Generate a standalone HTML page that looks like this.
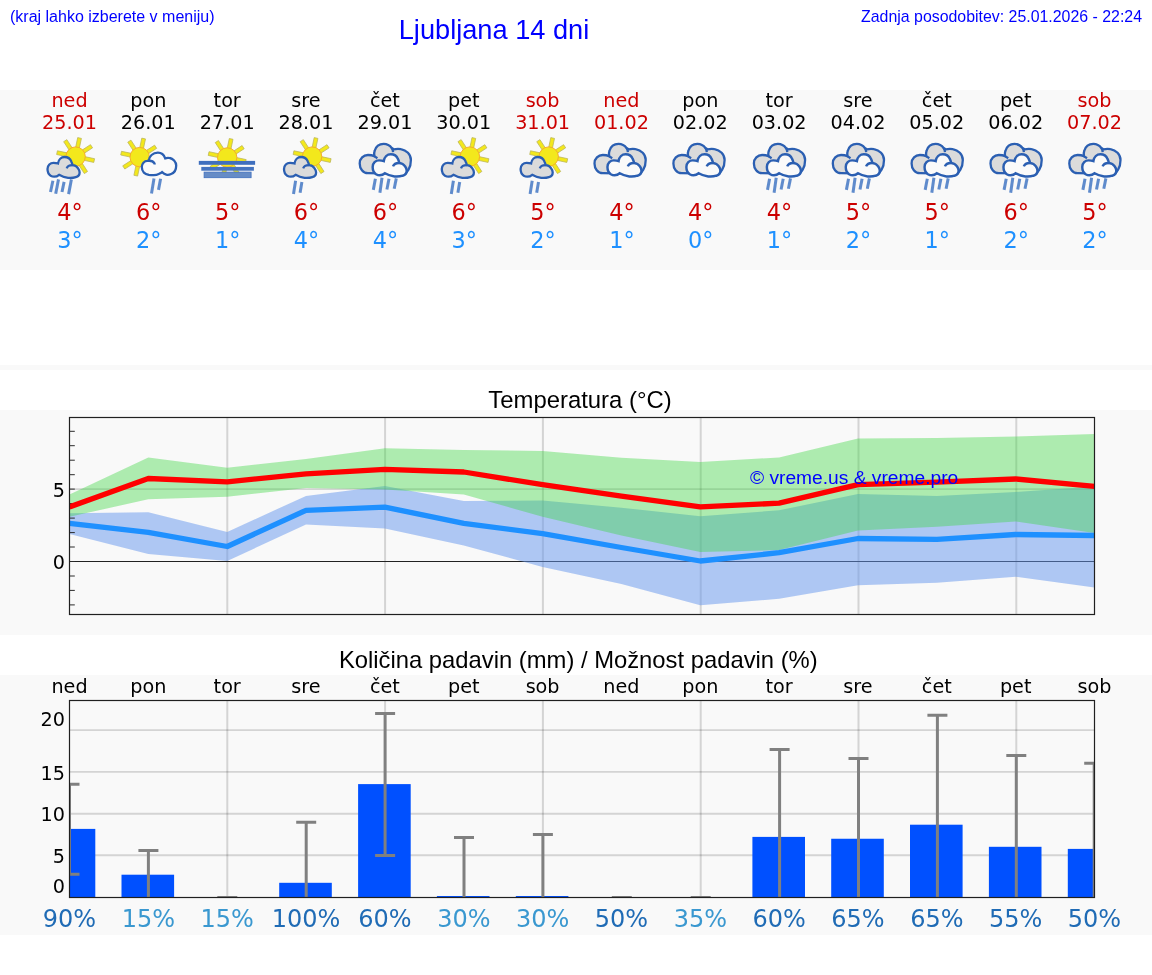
<!DOCTYPE html>
<html lang="sl"><head><meta charset="utf-8"><title>Ljubljana 14 dni</title>
<style>
html,body{margin:0;padding:0;background:#fff;}
body{width:1152px;height:975px;overflow:hidden;position:relative;}
svg{position:absolute;left:0;top:0;display:block;}
.dv{font-family:"DejaVu Sans","Liberation Sans",sans-serif;}
.ar{font-family:"Liberation Sans","DejaVu Sans",sans-serif;}
</style></head><body>

<svg width="1152" height="975" viewBox="0 0 1152 975">
<defs>
<g id="sun"><g fill="#f3e81c" stroke="#b9b35a" stroke-width="0.7"><rect x="-1.9" y="-19" width="3.8" height="10" transform="rotate(12)"/><rect x="-1.9" y="-19" width="3.8" height="10" transform="rotate(57)"/><rect x="-1.9" y="-19" width="3.8" height="10" transform="rotate(102)"/><rect x="-1.9" y="-19" width="3.8" height="10" transform="rotate(147)"/><rect x="-1.9" y="-19" width="3.8" height="10" transform="rotate(192)"/><rect x="-1.9" y="-19" width="3.8" height="10" transform="rotate(237)"/><rect x="-1.9" y="-19" width="3.8" height="10" transform="rotate(282)"/><rect x="-1.9" y="-19" width="3.8" height="10" transform="rotate(327)"/></g><circle r="9.7" fill="#f3e81c" stroke="#f6ad2a" stroke-width="1"/></g>
<g id="cl"><path d="M4.2,19.9 C2.2,18.6 1,16 1,13.2 C1,9.5 3.8,7 7,7 C8.6,7 10.2,7.2 11.5,7.6 C12,3.8 14.8,1.2 18.1,1.2 C21.3,1.2 23.8,3 24.8,5.6 C25.500,7 25.9,8.2 26.2,9.4 C28.4,9.6 30.4,10.8 31.6,12.6 C32.6,13.8 33.1,15.2 33.1,16.7 C33.1,19 31.500,20.7 29.3,21.3 C26.8,22.1 24,22.2 21.6,22 C18,21.6 15,20.4 12.6,19 C11.2,20.2 9.500,20.9 7.7,20.9 C6.4,20.9 5.2,20.500 4.2,19.9 Z"/><path d="M20.2,12.6 C20.8,10.9 23,9.3 26.2,9.4" fill="none"/></g>
<g id="cr"><path d="M8,9 C8.3,4.500 12,1 17.1,1 C20.500,1 23,2.8 24.4,6.6 C26,6 27.500,6 28.9,6.3 C32,6.8 35.4,10 35.4,13.9 C35.4,18.500 33,21.500 30.3,22.3 C28.500,23.2 26.500,23.2 25.500,23 C24,22.500 22.500,21.500 21.3,20.4 C20.500,21.2 19.500,21.7 18.500,22 C16.500,23 14.500,23.4 12.9,23.4 C11,23.4 9.500,23.4 8,23.2 C6,22.7 4.3,22 3.1,20.9 C1.8,19.500 1,17.500 1,15.3 C1,12 3.500,9.2 6.6,9.2 C7.1,9.1 7.6,9 8,9 Z"/><path d="M6.6,9.2 C9.500,8.8 12.500,9.6 13.500,11.500 C13.8,12 13.9,12.500 13.9,12.9" fill="none"/></g>
<g id="sunrain4"><use href="#sun" x="34.1" y="22.6"/><use href="#cl" x="5" y="21.8" fill="#dbdbdb" stroke="#2b5fb2" stroke-width="2.3"/><g stroke="#4478c4" stroke-width="3" stroke-opacity="0.85"><line x1="11.4" y1="46.8" x2="9" y2="58"/><line x1="17" y1="45.4" x2="14.2" y2="59.7"/><line x1="22.6" y1="47.9" x2="20.5" y2="58"/><line x1="29.9" y1="45.4" x2="27.1" y2="60.1"/></g></g>
<g id="sunrain2"><use href="#sun" x="34.1" y="22.6"/><use href="#cl" x="5" y="21.8" fill="#dbdbdb" stroke="#2b5fb2" stroke-width="2.3"/><g stroke="#4478c4" stroke-width="3" stroke-opacity="0.85"><line x1="17.6" y1="46.8" x2="15.5" y2="60.1"/><line x1="23.9" y1="47.9" x2="22.1" y2="58.7"/></g></g>
<g id="sunL"><use href="#sun" x="19.4" y="23.1"/><use href="#cr" x="20.5" y="17.7" fill="#fafafa" stroke="#2b5fb2" stroke-width="2.3"/><g stroke="#4478c4" stroke-width="3" stroke-opacity="0.85"><line x1="33.7" y1="44.4" x2="31.2" y2="59.4"/><line x1="40.3" y1="44.7" x2="38.2" y2="55.9"/></g></g>
<g id="fog"><use href="#sun" x="28" y="23.5"/><rect x="-0.4" y="26.9" width="56.3" height="3.9" fill="#3f6fbe"/><rect x="2.1" y="32.9" width="52.6" height="3.8" fill="#4473bf"/><rect x="4.9" y="38.1" width="47" height="5.6" fill="#668cc6" stroke="#3f6fbe" stroke-width="0.8"/></g>
<g id="clouds"><path d="M11.1,39.1 C6,39.1 2.8,34.500 2.8,29.4 C2.8,24.500 6.500,21 11.1,21 C13.500,21 15.8,21.4 17.4,22.1 C17,20 17.2,18.3 17.8,16.8 C19,12.500 22.500,9.9 26.8,9.9 C30,9.9 33,11.500 34.8,14 C35.500,14.4 36.2,14.8 36.9,15.4 C39,14.8 41.500,14.6 43.9,15.1 C49.500,16 54,20.500 54,25.9 C54,30 53,33.500 51.6,35.7 C50.500,37.500 49.500,38.8 48.1,39.8 L11.1,39.1 Z" fill="#dbdbdb" stroke="#2b5fb2" stroke-width="2.3"/><path d="M17.4,22.1 L20.5,24.2 M34.8,14 C35.6,15.3 36.1,16.8 36.2,18.2" fill="none" stroke="#2b5fb2" stroke-width="2.3"/><g transform="translate(14.7,18.9) scale(1.06,1.07)"><use href="#cl" fill="#fafafa" stroke="#2b5fb2" stroke-width="2.3"/></g></g>
<g id="cloudrain"><use href="#clouds"/><g stroke="#4478c4" stroke-width="3" stroke-opacity="0.85"><line x1="18.5" y1="44.7" x2="16.4" y2="55.9"/><line x1="25.1" y1="43.7" x2="23" y2="58.7"/><line x1="32.1" y1="44.7" x2="30" y2="55.5"/><line x1="39.4" y1="44.4" x2="37.3" y2="54.8"/></g></g>
</defs>

<rect x="0" y="90" width="1152" height="180" fill="#f9f9f9"/>
<rect x="0" y="365" width="1152" height="5" fill="#f9f9f9"/>
<rect x="0" y="410" width="1152" height="225" fill="#f9f9f9"/>
<rect x="0" y="675" width="1152" height="260" fill="#f9f9f9"/>
<g class="ar" fill="#0000ff">
<text x="10" y="21.5" font-size="16">(kraj lahko izberete v meniju)</text>
<text x="494" y="39" font-size="27.2" text-anchor="middle">Ljubljana 14 dni</text>
<text x="1142" y="21.5" font-size="15.9" text-anchor="end">Zadnja posodobitev: 25.01.2026 - 22:24</text>
</g>
<g class="dv" text-anchor="middle">
<text x="69.5" y="106.8" font-size="19.2" fill="#cc0000">ned</text>
<text x="69.5" y="128.8" font-size="19.2" fill="#cc0000">25.01</text>
<use href="#sunrain4" x="41.5" y="134"/>
<text x="70.0" y="219.6" font-size="22.4" fill="#cc0000">4°</text>
<text x="70.0" y="248.2" font-size="22.4" fill="#1e90ff">3°</text>
<text x="148.3" y="106.8" font-size="19.2" fill="#000000">pon</text>
<text x="148.3" y="128.8" font-size="19.2" fill="#000000">26.01</text>
<use href="#sunL" x="120.3" y="134"/>
<text x="148.8" y="219.6" font-size="22.4" fill="#cc0000">6°</text>
<text x="148.8" y="248.2" font-size="22.4" fill="#1e90ff">2°</text>
<text x="227.2" y="106.8" font-size="19.2" fill="#000000">tor</text>
<text x="227.2" y="128.8" font-size="19.2" fill="#000000">27.01</text>
<use href="#fog" x="199.2" y="134"/>
<text x="227.7" y="219.6" font-size="22.4" fill="#cc0000">5°</text>
<text x="227.7" y="248.2" font-size="22.4" fill="#1e90ff">1°</text>
<text x="306.0" y="106.8" font-size="19.2" fill="#000000">sre</text>
<text x="306.0" y="128.8" font-size="19.2" fill="#000000">28.01</text>
<use href="#sunrain2" x="278.0" y="134"/>
<text x="306.5" y="219.6" font-size="22.4" fill="#cc0000">6°</text>
<text x="306.5" y="248.2" font-size="22.4" fill="#1e90ff">4°</text>
<text x="384.9" y="106.8" font-size="19.2" fill="#000000">čet</text>
<text x="384.9" y="128.8" font-size="19.2" fill="#000000">29.01</text>
<use href="#cloudrain" x="356.9" y="134"/>
<text x="385.4" y="219.6" font-size="22.4" fill="#cc0000">6°</text>
<text x="385.4" y="248.2" font-size="22.4" fill="#1e90ff">4°</text>
<text x="463.8" y="106.8" font-size="19.2" fill="#000000">pet</text>
<text x="463.8" y="128.8" font-size="19.2" fill="#000000">30.01</text>
<use href="#sunrain2" x="435.8" y="134"/>
<text x="464.2" y="219.6" font-size="22.4" fill="#cc0000">6°</text>
<text x="464.2" y="248.2" font-size="22.4" fill="#1e90ff">3°</text>
<text x="542.6" y="106.8" font-size="19.2" fill="#cc0000">sob</text>
<text x="542.6" y="128.8" font-size="19.2" fill="#cc0000">31.01</text>
<use href="#sunrain2" x="514.6" y="134"/>
<text x="543.1" y="219.6" font-size="22.4" fill="#cc0000">5°</text>
<text x="543.1" y="248.2" font-size="22.4" fill="#1e90ff">2°</text>
<text x="621.4" y="106.8" font-size="19.2" fill="#cc0000">ned</text>
<text x="621.4" y="128.8" font-size="19.2" fill="#cc0000">01.02</text>
<use href="#clouds" x="591.7" y="134"/>
<text x="621.9" y="219.6" font-size="22.4" fill="#cc0000">4°</text>
<text x="621.9" y="248.2" font-size="22.4" fill="#1e90ff">1°</text>
<text x="700.3" y="106.8" font-size="19.2" fill="#000000">pon</text>
<text x="700.3" y="128.8" font-size="19.2" fill="#000000">02.02</text>
<use href="#clouds" x="670.6" y="134"/>
<text x="700.8" y="219.6" font-size="22.4" fill="#cc0000">4°</text>
<text x="700.8" y="248.2" font-size="22.4" fill="#1e90ff">0°</text>
<text x="779.1" y="106.8" font-size="19.2" fill="#000000">tor</text>
<text x="779.1" y="128.8" font-size="19.2" fill="#000000">03.02</text>
<use href="#cloudrain" x="751.1" y="134"/>
<text x="779.6" y="219.6" font-size="22.4" fill="#cc0000">4°</text>
<text x="779.6" y="248.2" font-size="22.4" fill="#1e90ff">1°</text>
<text x="858.0" y="106.8" font-size="19.2" fill="#000000">sre</text>
<text x="858.0" y="128.8" font-size="19.2" fill="#000000">04.02</text>
<use href="#cloudrain" x="830.0" y="134"/>
<text x="858.5" y="219.6" font-size="22.4" fill="#cc0000">5°</text>
<text x="858.5" y="248.2" font-size="22.4" fill="#1e90ff">2°</text>
<text x="936.8" y="106.8" font-size="19.2" fill="#000000">čet</text>
<text x="936.8" y="128.8" font-size="19.2" fill="#000000">05.02</text>
<use href="#cloudrain" x="908.8" y="134"/>
<text x="937.3" y="219.6" font-size="22.4" fill="#cc0000">5°</text>
<text x="937.3" y="248.2" font-size="22.4" fill="#1e90ff">1°</text>
<text x="1015.7" y="106.8" font-size="19.2" fill="#000000">pet</text>
<text x="1015.7" y="128.8" font-size="19.2" fill="#000000">06.02</text>
<use href="#cloudrain" x="987.7" y="134"/>
<text x="1016.2" y="219.6" font-size="22.4" fill="#cc0000">6°</text>
<text x="1016.2" y="248.2" font-size="22.4" fill="#1e90ff">2°</text>
<text x="1094.5" y="106.8" font-size="19.2" fill="#cc0000">sob</text>
<text x="1094.5" y="128.8" font-size="19.2" fill="#cc0000">07.02</text>
<use href="#cloudrain" x="1066.5" y="134"/>
<text x="1095.0" y="219.6" font-size="22.4" fill="#cc0000">5°</text>
<text x="1095.0" y="248.2" font-size="22.4" fill="#1e90ff">2°</text>
</g>
<text class="ar" x="580" y="408" font-size="23.9" text-anchor="middle" fill="#000">Temperatura (°C)</text>
<clipPath id="c1"><rect x="69.5" y="417.5" width="1025.0" height="197.0"/></clipPath>
<g clip-path="url(#c1)">
<line x1="227.3" y1="417.5" x2="227.3" y2="614.5" stroke="#000" stroke-opacity="0.15" stroke-width="2"/>
<line x1="385.1" y1="417.5" x2="385.1" y2="614.5" stroke="#000" stroke-opacity="0.15" stroke-width="2"/>
<line x1="542.9" y1="417.5" x2="542.9" y2="614.5" stroke="#000" stroke-opacity="0.15" stroke-width="2"/>
<line x1="700.7" y1="417.5" x2="700.7" y2="614.5" stroke="#000" stroke-opacity="0.15" stroke-width="2"/>
<line x1="858.5" y1="417.5" x2="858.5" y2="614.5" stroke="#000" stroke-opacity="0.15" stroke-width="2"/>
<line x1="1016.3" y1="417.5" x2="1016.3" y2="614.5" stroke="#000" stroke-opacity="0.15" stroke-width="2"/>
<line x1="69.5" y1="489.1" x2="1094.5" y2="489.1" stroke="#000" stroke-opacity="0.15" stroke-width="1.8"/>
<line x1="69.5" y1="561.5" x2="1094.5" y2="561.5" stroke="#222" stroke-width="1.1"/>
<polygon points="69.5,513.2 148.3,512.3 227.2,531.9 306.0,495.9 384.9,486.0 463.8,501.1 542.6,500.6 621.4,507.7 700.3,516.2 779.1,510.3 858.0,493.9 936.8,495.9 1015.7,492.0 1094.5,486.5 1094.5,587.6 1015.7,576.7 936.8,582.7 858.0,585.2 779.1,598.8 700.3,605.3 621.4,584.0 542.6,567.0 463.8,545.4 384.9,528.5 306.0,524.6 227.2,561.0 148.3,554.0 69.5,534.0" fill="#6495ed" fill-opacity="0.5"/>
<polygon points="69.5,494.5 148.3,457.4 227.2,467.8 306.0,459.0 384.9,448.3 463.8,450.1 542.6,450.9 621.4,457.7 700.3,462.1 779.1,457.4 858.0,438.6 936.8,437.9 1015.7,436.6 1094.5,434.0 1094.5,532.9 1015.7,521.5 936.8,526.7 858.0,530.6 779.1,550.1 700.3,551.9 621.4,535.5 542.6,516.8 463.8,494.6 384.9,489.4 306.0,488.1 227.2,496.7 148.3,499.3 69.5,516.8" fill="#3cd741" fill-opacity="0.4"/>
<line x1="69.5" y1="604.9" x2="74.8" y2="604.9" stroke="#2a2a2a" stroke-width="1"/>
<line x1="69.5" y1="590.4" x2="74.8" y2="590.4" stroke="#2a2a2a" stroke-width="1"/>
<line x1="69.5" y1="576.0" x2="74.8" y2="576.0" stroke="#2a2a2a" stroke-width="1"/>
<line x1="69.5" y1="561.5" x2="74.8" y2="561.5" stroke="#2a2a2a" stroke-width="1"/>
<line x1="69.5" y1="547.0" x2="74.8" y2="547.0" stroke="#2a2a2a" stroke-width="1"/>
<line x1="69.5" y1="532.6" x2="74.8" y2="532.6" stroke="#2a2a2a" stroke-width="1"/>
<line x1="69.5" y1="518.1" x2="74.8" y2="518.1" stroke="#2a2a2a" stroke-width="1"/>
<line x1="69.5" y1="503.6" x2="74.8" y2="503.6" stroke="#2a2a2a" stroke-width="1"/>
<line x1="69.5" y1="489.1" x2="74.8" y2="489.1" stroke="#2a2a2a" stroke-width="1"/>
<line x1="69.5" y1="474.7" x2="74.8" y2="474.7" stroke="#2a2a2a" stroke-width="1"/>
<line x1="69.5" y1="460.2" x2="74.8" y2="460.2" stroke="#2a2a2a" stroke-width="1"/>
<line x1="69.5" y1="445.7" x2="74.8" y2="445.7" stroke="#2a2a2a" stroke-width="1"/>
<line x1="69.5" y1="431.3" x2="74.8" y2="431.3" stroke="#2a2a2a" stroke-width="1"/>
<polyline points="69.5,523.3 148.3,532.4 227.2,546.5 306.0,510.3 384.9,507.1 463.8,523.3 542.6,533.7 621.4,547.5 700.3,561.0 779.1,552.7 858.0,538.5 936.8,539.4 1015.7,534.5 1094.5,535.5" fill="none" stroke="#1e90ff" stroke-width="5.3" stroke-linejoin="round"/>
<polyline points="69.5,506.9 148.3,478.5 227.2,481.9 306.0,473.8 384.9,469.4 463.8,472.0 542.6,484.7 621.4,496.2 700.3,506.9 779.1,503.2 858.0,484.7 936.8,482.1 1015.7,479.0 1094.5,486.3" fill="none" stroke="#ff0000" stroke-width="5.3" stroke-linejoin="round"/>
</g>
<rect x="69.5" y="417.5" width="1025.0" height="197.0" fill="none" stroke="#202020" stroke-width="1.2"/>
<g class="dv" font-size="19.2" text-anchor="end" fill="#000">
<text x="65" y="496.8">5</text><text x="65" y="569">0</text></g>
<text class="ar" x="750" y="484.3" font-size="19.2" fill="#0000ff">© vreme.us &amp; vreme.pro</text>
<text class="ar" x="578.3" y="667.9" font-size="23.8" text-anchor="middle" fill="#000">Količina padavin (mm) / Možnost padavin (%)</text>
<g class="dv" font-size="19.2" text-anchor="middle" fill="#000">
<text x="69.5" y="692.8">ned</text>
<text x="148.3" y="692.8">pon</text>
<text x="227.2" y="692.8">tor</text>
<text x="306.0" y="692.8">sre</text>
<text x="384.9" y="692.8">čet</text>
<text x="463.8" y="692.8">pet</text>
<text x="542.6" y="692.8">sob</text>
<text x="621.4" y="692.8">ned</text>
<text x="700.3" y="692.8">pon</text>
<text x="779.1" y="692.8">tor</text>
<text x="858.0" y="692.8">sre</text>
<text x="936.8" y="692.8">čet</text>
<text x="1015.7" y="692.8">pet</text>
<text x="1094.5" y="692.8">sob</text>
</g>
<clipPath id="c2"><rect x="69.5" y="700.5" width="1025.0" height="197.0"/></clipPath>
<g clip-path="url(#c2)">
<line x1="227.3" y1="700.5" x2="227.3" y2="897.5" stroke="#000" stroke-opacity="0.15" stroke-width="2"/>
<line x1="385.1" y1="700.5" x2="385.1" y2="897.5" stroke="#000" stroke-opacity="0.15" stroke-width="2"/>
<line x1="542.9" y1="700.5" x2="542.9" y2="897.5" stroke="#000" stroke-opacity="0.15" stroke-width="2"/>
<line x1="700.7" y1="700.5" x2="700.7" y2="897.5" stroke="#000" stroke-opacity="0.15" stroke-width="2"/>
<line x1="858.5" y1="700.5" x2="858.5" y2="897.5" stroke="#000" stroke-opacity="0.15" stroke-width="2"/>
<line x1="1016.3" y1="700.5" x2="1016.3" y2="897.5" stroke="#000" stroke-opacity="0.15" stroke-width="2"/>
<line x1="69.5" y1="730.1" x2="1094.5" y2="730.1" stroke="#000" stroke-opacity="0.15" stroke-width="1.9"/>
<line x1="69.5" y1="771.9" x2="1094.5" y2="771.9" stroke="#000" stroke-opacity="0.15" stroke-width="1.9"/>
<line x1="69.5" y1="813.7" x2="1094.5" y2="813.7" stroke="#000" stroke-opacity="0.15" stroke-width="1.9"/>
<line x1="69.5" y1="855.2" x2="1094.5" y2="855.2" stroke="#000" stroke-opacity="0.15" stroke-width="1.9"/>
<rect x="42.7" y="828.9" width="52.6" height="70.6" fill="#0050ff"/>
<rect x="121.5" y="874.7" width="52.6" height="24.8" fill="#0050ff"/>
<rect x="279.2" y="882.8" width="52.6" height="16.7" fill="#0050ff"/>
<rect x="358.1" y="784.1" width="52.6" height="115.4" fill="#0050ff"/>
<rect x="436.9" y="896" width="52.6" height="3.5" fill="#0050ff"/>
<rect x="515.8" y="896" width="52.6" height="3.5" fill="#0050ff"/>
<rect x="752.4" y="836.9" width="52.6" height="62.6" fill="#0050ff"/>
<rect x="831.2" y="838.75" width="52.6" height="60.8" fill="#0050ff"/>
<rect x="910.0" y="824.7" width="52.6" height="74.8" fill="#0050ff"/>
<rect x="988.9" y="846.8" width="52.6" height="52.7" fill="#0050ff"/>
<rect x="1067.8" y="848.9" width="52.6" height="50.6" fill="#0050ff"/>
<line x1="69.5" y1="784.3" x2="69.5" y2="874.2" stroke="#808080" stroke-width="3"/>
<line x1="59.5" y1="784.3" x2="79.5" y2="784.3" stroke="#808080" stroke-width="3"/>
<line x1="59.5" y1="874.2" x2="79.5" y2="874.2" stroke="#808080" stroke-width="3"/>
<line x1="148.4" y1="850.5" x2="148.4" y2="900" stroke="#808080" stroke-width="3"/>
<line x1="138.4" y1="850.5" x2="158.4" y2="850.5" stroke="#808080" stroke-width="3"/>
<line x1="227.3" y1="897.4" x2="227.3" y2="900" stroke="#808080" stroke-width="3"/>
<line x1="217.3" y1="897.4" x2="237.3" y2="897.4" stroke="#808080" stroke-width="3"/>
<line x1="306.2" y1="822.3" x2="306.2" y2="900" stroke="#808080" stroke-width="3"/>
<line x1="296.2" y1="822.3" x2="316.2" y2="822.3" stroke="#808080" stroke-width="3"/>
<line x1="385.1" y1="713.5" x2="385.1" y2="855.4" stroke="#808080" stroke-width="3"/>
<line x1="375.1" y1="713.5" x2="395.1" y2="713.5" stroke="#808080" stroke-width="3"/>
<line x1="375.1" y1="855.4" x2="395.1" y2="855.4" stroke="#808080" stroke-width="3"/>
<line x1="464.0" y1="837.4" x2="464.0" y2="900" stroke="#808080" stroke-width="3"/>
<line x1="454.0" y1="837.4" x2="474.0" y2="837.4" stroke="#808080" stroke-width="3"/>
<line x1="542.9" y1="834.6" x2="542.9" y2="900" stroke="#808080" stroke-width="3"/>
<line x1="532.9" y1="834.6" x2="552.9" y2="834.6" stroke="#808080" stroke-width="3"/>
<line x1="621.8" y1="897.4" x2="621.8" y2="900" stroke="#808080" stroke-width="3"/>
<line x1="611.8" y1="897.4" x2="631.8" y2="897.4" stroke="#808080" stroke-width="3"/>
<line x1="700.7" y1="897.4" x2="700.7" y2="900" stroke="#808080" stroke-width="3"/>
<line x1="690.7" y1="897.4" x2="710.7" y2="897.4" stroke="#808080" stroke-width="3"/>
<line x1="779.6" y1="749.4" x2="779.6" y2="900" stroke="#808080" stroke-width="3"/>
<line x1="769.6" y1="749.4" x2="789.6" y2="749.4" stroke="#808080" stroke-width="3"/>
<line x1="858.5" y1="758.5" x2="858.5" y2="900" stroke="#808080" stroke-width="3"/>
<line x1="848.5" y1="758.5" x2="868.5" y2="758.5" stroke="#808080" stroke-width="3"/>
<line x1="937.4" y1="715.3" x2="937.4" y2="900" stroke="#808080" stroke-width="3"/>
<line x1="927.4" y1="715.3" x2="947.4" y2="715.3" stroke="#808080" stroke-width="3"/>
<line x1="1016.3" y1="755.4" x2="1016.3" y2="900" stroke="#808080" stroke-width="3"/>
<line x1="1006.3" y1="755.4" x2="1026.3" y2="755.4" stroke="#808080" stroke-width="3"/>
<line x1="1094.2" y1="763.2" x2="1094.2" y2="900" stroke="#808080" stroke-width="3"/>
<line x1="1084.2" y1="763.2" x2="1104.2" y2="763.2" stroke="#808080" stroke-width="3"/>
</g>
<rect x="69.5" y="700.5" width="1025.0" height="197.0" fill="none" stroke="#202020" stroke-width="1.2"/>
<g class="dv" font-size="19.2" text-anchor="end" fill="#000">
<text x="65" y="725.6">20</text>
<text x="65" y="779.5">15</text>
<text x="65" y="821.3">10</text>
<text x="65" y="862.9">5</text>
<text x="65" y="892.9">0</text>
</g>
<g class="dv" font-size="24" text-anchor="middle">
<text x="69.5" y="927" fill="#1f6bb5">90%</text>
<text x="148.3" y="927" fill="#3a98d0">15%</text>
<text x="227.2" y="927" fill="#3a98d0">15%</text>
<text x="306.0" y="927" fill="#1f6bb5">100%</text>
<text x="384.9" y="927" fill="#1f6bb5">60%</text>
<text x="463.8" y="927" fill="#3a98d0">30%</text>
<text x="542.6" y="927" fill="#3a98d0">30%</text>
<text x="621.4" y="927" fill="#1f6bb5">50%</text>
<text x="700.3" y="927" fill="#3a98d0">35%</text>
<text x="779.1" y="927" fill="#1f6bb5">60%</text>
<text x="858.0" y="927" fill="#1f6bb5">65%</text>
<text x="936.8" y="927" fill="#1f6bb5">65%</text>
<text x="1015.7" y="927" fill="#1f6bb5">55%</text>
<text x="1094.5" y="927" fill="#1f6bb5">50%</text>
</g>
</svg></body></html>
